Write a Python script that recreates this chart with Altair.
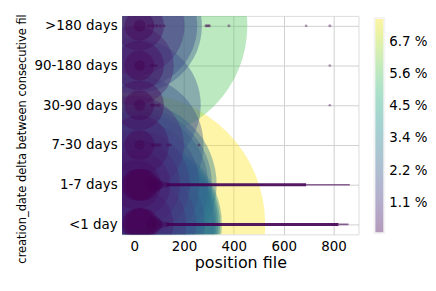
import altair as alt
import pandas as pd

rows = [">180 days", "90-180 days", "30-90 days", "7-30 days", "1-7 days", "<1 day"]

# position in file and share (%) of each plotted point, per delta category
pos_gt180 = [0, 1, 2, 3, 20, 21, 22, 60, 75, 90, 105, 120, 288, 292, 298, 302, 380, 690, 785]
pct_gt180 = [5.63, 2.0, 1.72, 1.08, 0.27, 0.097, 0.016, 0.0015, 0.0015, 0.0015, 0.0012, 0.0012, 0.001, 0.001, 0.001, 0.001, 0.001, 0.0008, 0.001]

pos_90_180 = [0, 20, 21, 22, 68, 78, 88, 785]
pct_90_180 = [0.69, 0.27, 0.097, 0.012, 0.0012, 0.001, 0.0012, 0.0008]

pos_30_90 = [0, 20, 21, 22, 70, 80, 90, 100, 785]
pct_30_90 = [1.95, 0.27, 0.097, 0.014, 0.0012, 0.0012, 0.0012, 0.0012, 0.0008]

pos_7_30 = [0, 1, 20, 21, 22, 72, 80, 88, 96, 104, 135, 145, 260]
pct_7_30 = [2.12, 1.08, 0.39, 0.097, 0.011, 0.0012, 0.0012, 0.0012, 0.0012, 0.0012, 0.001, 0.001, 0.001]

pos_1_7 = [0, 1, 2, 3, 4, 5, 6, 7, 12, 18, 24, 30, 36, 80, 95, 110, 130]
pct_1_7 = [2.99, 2.64, 2.37, 1.83, 1.31, 0.88, 0.53, 0.27, 0.11, 0.11, 0.11, 0.11, 0.11, 0.028, 0.011, 0.0053, 0.0035]

pos_lt1 = [0, 1, 2, 3, 4, 5, 6, 7, 8, 9, 12, 18, 24, 30, 36, 80, 95, 110, 130]
pct_lt1 = [7.55, 3.36, 3.2, 3.05, 2.9, 2.75, 2.1, 1.6, 1.1, 0.6, 0.11, 0.11, 0.11, 0.11, 0.11, 0.028, 0.011, 0.0053, 0.0035]

# dense runs of tiny points along the two busiest rows
dense_rows = ["1-7 days", "<1 day"]
dense_start = [130, 130]
dense_end = [690, 820]
sparse_start = [690, 820]
sparse_end = [865, 860]

legend_ticks = [1.117, 2.235, 3.352, 4.47, 5.587, 6.705]

records = []
for r, ps, vs in [
    (">180 days", pos_gt180, pct_gt180),
    ("90-180 days", pos_90_180, pct_90_180),
    ("30-90 days", pos_30_90, pct_30_90),
    ("7-30 days", pos_7_30, pct_7_30),
    ("1-7 days", pos_1_7, pct_1_7),
    ("<1 day", pos_lt1, pct_lt1),
]:
    for p, v in zip(ps, vs):
        records.append({"row": r, "pos": p, "pct": v})
pts = pd.DataFrame(records).sort_values("pct", ascending=False).reset_index(drop=True)
pts["order"] = range(len(pts))

dense = pd.DataFrame({"row": dense_rows, "start": dense_start, "end": dense_end})
sparse = pd.DataFrame({"row": dense_rows, "start": sparse_start, "end": sparse_end})

FONT = "DejaVu Sans"
x_scale = alt.Scale(domain=[-48, 900], nice=False, zero=False)
y_scale = alt.Scale(domain=rows, type="point", padding=0.25)

x_axis = alt.Axis(values=[0, 200, 400, 600, 800], title="position file", grid=True,
                  ticks=False, tickSize=0, domain=False, labelPadding=5,
                  labelFontSize=13.5, titleFontSize=16, titleFontWeight="normal",
                  titlePadding=2, labelColor="#000000", titleColor="#000000",
                  gridColor="#d0d0d0", gridWidth=1, labelFont=FONT, titleFont=FONT)
y_axis = alt.Axis(title="creation_date delta between consecutive fil", grid=True,
                  ticks=False, tickSize=0, domain=False, labelPadding=5,
                  labelFontSize=13.5, titleFontSize=11.5, titleFontWeight="normal",
                  titleAngle=270, titleAlign="left", titleBaseline="bottom",
                  titleX=-95, titleY=249,
                  labelColor="#000000", titleColor="#000000",
                  gridColor="#d0d0d0", gridWidth=1, labelFont=FONT, titleFont=FONT)

points = alt.Chart(pts).mark_circle(opacity=0.4, clip=True).encode(
    x=alt.X("pos:Q", scale=x_scale, axis=x_axis),
    y=alt.Y("row:N", scale=y_scale, sort=rows, axis=y_axis),
    size=alt.Size("pct:Q", scale=alt.Scale(domain=[0, 7.55], range=[0, 69700]), legend=None),
    color=alt.Color("pct:Q", scale=alt.Scale(scheme="viridis", domain=[0.05, 7.55]),
                    legend=alt.Legend(title=None, orient="none", legendX=254, legendY=2,
                                      direction="vertical", gradientLength=217,
                                      gradientThickness=10, values=legend_ticks,
                                      labelExpr="format(datum.value, '.1f') + ' %'",
                                      labelFontSize=13.5, labelFont=FONT, labelColor="#000000",
                                      labelOffset=5, labelOverlap=False,
                                      gradientStrokeColor="#e5e5e5", gradientStrokeWidth=2)),
    order=alt.Order("order:Q"),
)

thick = alt.Chart(dense).mark_rule(color="#440154", strokeWidth=3, opacity=0.9, clip=True).encode(
    x=alt.X("start:Q", scale=x_scale), x2="end:Q",
    y=alt.Y("row:N", scale=y_scale, sort=rows),
)
thin = alt.Chart(sparse).mark_rule(color="#440154", strokeWidth=1.6, opacity=0.6, clip=True).encode(
    x=alt.X("start:Q", scale=x_scale), x2="end:Q",
    y=alt.Y("row:N", scale=y_scale, sort=rows),
)

chart = alt.layer(points, thick, thin).properties(
    width=238, height=220,
    padding={"left": 8, "top": 4, "right": 0, "bottom": 5},
).configure_view(stroke="#e5e5e5", strokeWidth=3).configure(font=FONT)

chart.save("out.html", embed_options={"renderer": "svg", "actions": False})
